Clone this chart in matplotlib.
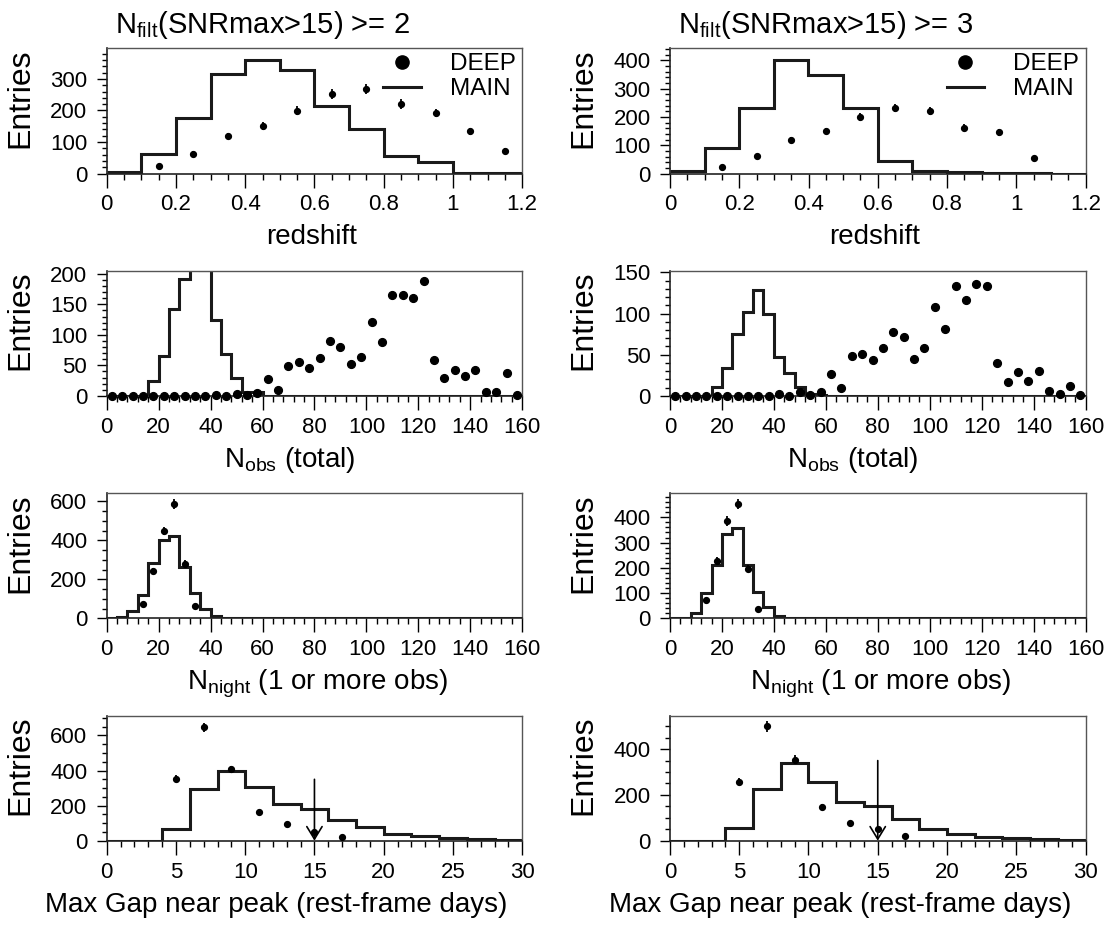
import numpy as np
import matplotlib.pyplot as plt
from matplotlib.lines import Line2D
from matplotlib.legend_handler import HandlerLine2D
from matplotlib.ticker import MultipleLocator, FuncFormatter

plt.rcParams["font.family"] = ["Liberation Sans", "DejaVu Sans"]
plt.rcParams["mathtext.fontset"] = "custom"
plt.rcParams["mathtext.rm"] = "Liberation Sans"
plt.rcParams["mathtext.it"] = "Liberation Sans:italic"

# ---------------------------------------------------
# data
# ---------------------------------------------------
Z_EDGES = np.linspace(0, 1.2, 13)
NOBS_EDGES = np.linspace(0, 160, 41)
NNIGHT_EDGES = np.linspace(0, 160, 41)
GAP_EDGES = np.linspace(0, 30, 16)

TITLES = [r"N$_{\rm filt}$(SNRmax>15) >= 2", r"N$_{\rm filt}$(SNRmax>15) >= 3"]

# redshift
z_main_2 = [6, 63, 176, 314, 360, 327, 213, 141, 57, 36, 3, 1]
z_deep_2 = [0, 23, 62, 119, 150, 199, 252, 268, 220, 192, 134, 71]
z_main_3 = [9, 91, 233, 400, 348, 232, 43, 8, 4, 2, 1, 0]
z_deep_3 = [0, 22, 61, 119, 150, 198, 231, 220, 162, 145, 54, 0]

# N_obs (total)
nobs_main_2 = [0, 0, 0, 0, 25, 66, 143, 191, 215, 206, 124, 68, 29, 6, 6] + [0] * 25
nobs_deep_2 = [0] * 10 + [2, 0, 3, 1, 5, 27, 9, 49, 55, 46, 62, 90, 80, 52, 64,
                          121, 89, 165, 165, 160, 188, 59, 29, 42, 32, 42, 7, 6, 37, 1]
nobs_main_3 = [0, 0, 0, 0, 11, 34, 75, 102, 128, 99, 47, 28, 11, 2, 1] + [0] * 25
nobs_deep_3 = [0] * 10 + [2, 0, 5, 1, 5, 27, 10, 49, 51, 43, 58, 77, 71, 45, 58,
                          108, 81, 134, 116, 136, 134, 40, 17, 29, 18, 30, 6, 2, 12, 1]

# N_night
nnight_main_2 = [0, 7, 37, 119, 284, 404, 421, 262, 131, 46, 12] + [0] * 29
nnight_deep_2 = [0, 0, 0, 75, 244, 446, 586, 281, 61] + [0] * 31
nnight_main_3 = [0, 0, 22, 99, 210, 332, 358, 210, 105, 43, 8] + [0] * 29
nnight_deep_3 = [0, 0, 0, 71, 226, 385, 453, 196, 38] + [0] * 31

# max gap near peak
gap_main_2 = [0, 0, 68, 294, 398, 307, 212, 178, 117, 78, 36, 25, 15, 11, 6]
gap_deep_2 = [0, 0, 354, 648, 407, 163, 98, 51, 21, 0, 0, 0, 0, 0, 0]
gap_main_3 = [0, 0, 57, 226, 339, 255, 171, 153, 95, 51, 28, 18, 13, 9, 3]
gap_deep_3 = [0, 0, 258, 499, 354, 149, 79, 50, 20, 0, 0, 0, 0, 0, 0]

GAP_CUT = 15
ARROW_TOP = 350

# ---------------------------------------------------
# layout (pixels)
# ---------------------------------------------------
W, H = 1113, 926
COL_X = [106.7, 670]
AX_W = 415.5
ROW_BOTTOM = [173.5, 395.9, 618.3, 840.7]
AX_H = 125.2

LINE_COLOR = "#1a1a1a"
TICK_FS = 16
LABEL_FS = 20


class MarkerAtEnd(HandlerLine2D):
    # legend marker drawn at the right end of the handle box (ROOT-like)
    def get_xdata(self, legend, xdescent, ydescent, width, height, fontsize):
        xdata, _ = super().get_xdata(legend, xdescent, ydescent, width, height, fontsize)
        return xdata, np.array([-xdescent + 0.95 * width])


rows = [
    dict(edges=Z_EDGES, main=[z_main_2, z_main_3], deep=[z_deep_2, z_deep_3],
         xlabel="redshift", xshift=-3, xmaj=0.2, xmin=0.05, ylim=[397, 442],
         ymaj=[100, 100], ymin=[20, 20], errors=True, zeros=False),
    dict(edges=NOBS_EDGES, main=[nobs_main_2, nobs_main_3], deep=[nobs_deep_2, nobs_deep_3],
         xlabel=r"N$_{\rm obs}$ (total)", xshift=-25, xmaj=20, xmin=4, ylim=[205, 152],
         ymaj=[50, 50], ymin=[10, 10], errors=False, zeros=True),
    dict(edges=NNIGHT_EDGES, main=[nnight_main_2, nnight_main_3], deep=[nnight_deep_2, nnight_deep_3],
         xlabel=r"N$_{\rm night}$ (1 or more obs)", xshift=3, xmaj=20, xmin=4, ylim=[642, 496],
         ymaj=[200, 100], ymin=[50, 20], errors=True, zeros=False),
    dict(edges=GAP_EDGES, main=[gap_main_2, gap_main_3], deep=[gap_deep_2, gap_deep_3],
         xlabel="Max Gap near peak (rest-frame days)", xshift=-38, xmaj=5, xmin=1, ylim=[714, 547],
         ymaj=[200, 200], ymin=[50, 50], errors=True, zeros=False),
]

fig = plt.figure(figsize=(W / 100, H / 100), dpi=100)

for r, row in enumerate(rows):
    for c in range(2):
        ax = fig.add_axes([COL_X[c] / W, 1 - ROW_BOTTOM[r] / H, AX_W / W, AX_H / H])
        edges = row["edges"]
        centers = 0.5 * (edges[:-1] + edges[1:])
        main = np.array(row["main"][c], dtype=float)
        deep = np.array(row["deep"][c], dtype=float)

        ax.stairs(main, edges, color=LINE_COLOR, lw=2.2, baseline=None, zorder=2)

        mask = np.ones_like(deep, dtype=bool) if row["zeros"] else deep > 0
        if row["errors"]:
            ax.errorbar(centers[mask], deep[mask], yerr=np.sqrt(deep[mask]), fmt="o",
                        color="black", ms=4.2, elinewidth=1.3, capsize=0, zorder=3)
        else:
            ax.plot(centers[mask], deep[mask], "o", color="black", ms=5.6, zorder=3,
                    clip_on=False)

        ax.set_xlim(edges[0], edges[-1])
        ax.set_ylim(0, row["ylim"][c])

        ax.xaxis.set_major_locator(MultipleLocator(row["xmaj"]))
        ax.xaxis.set_minor_locator(MultipleLocator(row["xmin"]))
        ax.yaxis.set_major_locator(MultipleLocator(row["ymaj"][c]))
        ax.yaxis.set_minor_locator(MultipleLocator(row["ymin"][c]))
        ax.xaxis.set_major_formatter(FuncFormatter(lambda v, p: f"{v:g}"))

        ax.tick_params(axis="x", which="major", direction="out", length=10, width=1,
                       labelsize=TICK_FS, pad=5, top=False)
        ax.tick_params(axis="x", which="minor", direction="out", length=4.5, width=1, top=False)
        ax.tick_params(axis="y", which="major", direction="out", length=7, width=1,
                       labelsize=TICK_FS, pad=7, right=False)
        ax.tick_params(axis="y", which="minor", direction="out", length=3.5, width=1, right=False)

        for side in ["left", "bottom"]:
            ax.spines[side].set_linewidth(1.2)
            ax.spines[side].set_color("#222222")
        for side in ["top", "right"]:
            ax.spines[side].set_linewidth(1.0)
            ax.spines[side].set_color("#555555")

        ax.set_xlabel(row["xlabel"], fontsize=LABEL_FS, va="baseline")
        ax.xaxis.set_label_coords(0.5 + row["xshift"] / AX_W, -71 / AX_H)
        ax.set_ylabel("Entries", fontsize=23, loc="top")
        ax.yaxis.set_label_coords(-0.172, 1.0)

        if r == 3:
            ax.annotate("", xy=(GAP_CUT, 0), xytext=(GAP_CUT, ARROW_TOP),
                        arrowprops=dict(arrowstyle="->,head_length=0.9,head_width=0.55",
                                        color="black", lw=1.2, mutation_scale=10,
                                        shrinkA=0, shrinkB=0), zorder=4)

        if r == 0:
            deep_handle = Line2D([], [], marker="o", ls="none", color="black", ms=9.5)
            main_handle = Line2D([], [], color=LINE_COLOR, lw=2.2)
            ax.legend([deep_handle, main_handle], ["DEEP", "MAIN"], loc="upper right",
                      bbox_to_anchor=(0.985, 0.96), frameon=False, fontsize=17.5,
                      handlelength=1.55, handletextpad=1.2, labelspacing=0.12,
                      borderaxespad=0, borderpad=0,
                      handler_map={deep_handle: MarkerAtEnd(numpoints=1)})

# column titles
for c in range(2):
    fig.text((COL_X[c] + 8) / W, 1 - 33 / H, TITLES[c], fontsize=21,
             ha="left", va="baseline")

fig.savefig("out.png", dpi=100)
